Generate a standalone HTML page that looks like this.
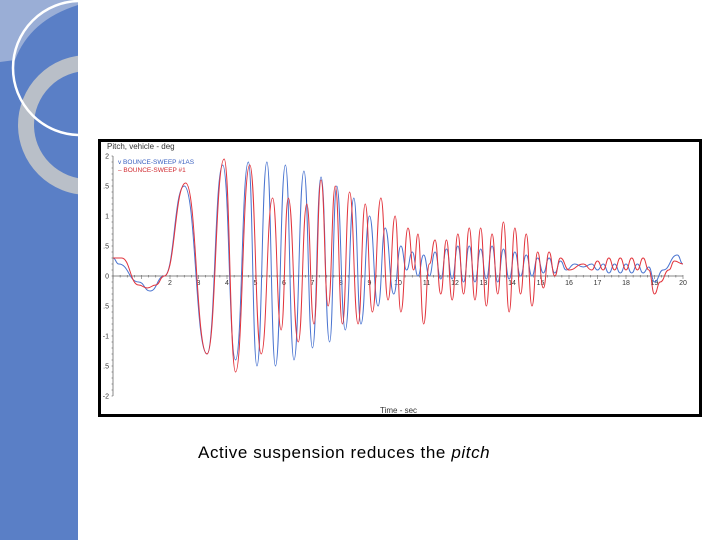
<!DOCTYPE html>
<html><head><meta charset="utf-8"><style>
body{margin:0;width:720px;height:540px;background:#fff;position:relative;overflow:hidden;font-family:"Liberation Sans",sans-serif}
#side{position:absolute;left:0;top:0}
#chart{position:absolute;left:98px;top:139px}
#cap{position:absolute;left:198px;top:443px;font-size:17px;letter-spacing:0.6px;color:#000;white-space:nowrap}
</style></head><body>
<svg id="side" width="80" height="540">
<defs><clipPath id="cp"><rect x="0" y="0" width="78" height="540"/></clipPath></defs>
<rect x="0" y="0" width="78" height="540" fill="#5a7fc6"/>
<g clip-path="url(#cp)">
<path d="M0,0 H78 V5 Q30,20 15,60 L0,62 Z" fill="#9aaed6"/>
<circle cx="88" cy="125" r="62" fill="none" stroke="#b9bfc8" stroke-width="16"/>
<circle cx="80" cy="68" r="67" fill="none" stroke="#fff" stroke-width="2.5"/>
</g>
<rect x="78" y="0" width="2" height="540" fill="#fff"/>
</svg>
<svg id="chart" width="604" height="278"></svg>
<div id="cap">Active suspension reduces the <i>pitch</i></div>
<script>
const xTicks=[2,3,4,5,6,7,8,9,10,11,12,13,14,15,16,17,18,19,20];
const yTicks=[2,1.5,1,0.5,0,-0.5,-1,-1.5,-2];
const yTickLabels=["2",".5","1",".5","0",".5","-1",".5","-2"];
const blueT=[0,0.2,0.9,1.3,1.8,2.5,3.3,3.85,4.3,4.75,5.05,5.4,5.7,6.05,6.35,6.7,7.0,7.3,7.6,7.85,8.15,8.45,8.7,9.0,9.3,9.55,9.85,10.1,10.3,10.5,10.7,10.9,11.1,11.3,11.5,11.7,11.9,12.1,12.3,12.5,12.7,12.9,13.1,13.3,13.5,13.7,13.9,14.1,14.3,14.5,14.7,14.9,15.1,15.3,15.5,15.7,15.9,16.2,16.5,16.8,17.0,17.2,17.4,17.6,17.8,18.0,18.2,18.4,18.6,18.8,19.0,19.3,19.8,20];
const blueV=[0.3,0.2,-0.1,-0.25,0,1.5,-1.3,1.85,-1.4,1.9,-1.5,1.9,-1.5,1.85,-1.4,1.75,-1.2,1.65,-1.1,1.5,-0.9,1.3,-0.8,1.0,-0.5,0.8,-0.3,0.5,0.1,0.4,0.0,0.35,0.0,0.4,-0.05,0.45,-0.05,0.5,-0.1,0.5,-0.1,0.45,-0.05,0.5,-0.1,0.45,-0.05,0.4,0.0,0.35,0.0,0.3,0.05,0.3,0.05,0.25,0.1,0.2,0.15,0.2,0.1,0.2,0.05,0.2,0.05,0.2,0.05,0.2,0.05,0.15,-0.1,0.1,0.35,0.2];
const redT=[0,0.3,0.9,1.2,1.5,1.8,2.55,3.3,3.9,4.3,4.8,5.2,5.6,5.9,6.15,6.5,6.8,7.05,7.3,7.55,7.8,8.05,8.3,8.6,8.85,9.1,9.4,9.65,9.9,10.1,10.35,10.55,10.7,10.9,11.1,11.3,11.5,11.7,11.9,12.1,12.3,12.5,12.7,12.9,13.1,13.3,13.5,13.7,13.9,14.1,14.3,14.5,14.7,14.9,15.1,15.3,15.5,15.7,16.0,16.5,16.8,17.0,17.2,17.4,17.6,17.8,18.0,18.2,18.4,18.6,18.8,19.0,19.2,19.5,19.7,20];
const redV=[0.3,0.3,-0.15,-0.2,-0.15,0,1.55,-1.3,1.95,-1.6,1.85,-1.3,1.3,-0.9,1.3,-1.1,1.2,-0.8,1.6,-0.5,1.5,-0.8,1.4,-0.8,1.2,-0.6,1.3,-0.4,1.0,-0.6,0.8,0.1,0.7,-0.8,0.2,0.6,-0.3,0.6,-0.4,0.7,-0.3,0.8,-0.4,0.8,-0.5,0.7,-0.3,0.9,-0.6,0.8,-0.3,0.7,-0.5,0.4,-0.2,0.4,0.0,0.3,0.1,0.2,0.1,0.25,0.1,0.3,0.1,0.3,0.1,0.3,0.1,0.3,0.1,-0.3,-0.1,0.1,0.25,0.2];
const NS="http://www.w3.org/2000/svg";
const svg=document.getElementById('chart');
const X0=15,XS=28.5,Y0=137,YS=60;
const xs=t=>X0+t*XS, ys=v=>Y0-v*YS;
function el(tag,attrs,parent){const e=document.createElementNS(NS,tag);for(const k in attrs)e.setAttribute(k,attrs[k]);(parent||svg).appendChild(e);return e;}
const bg=el('rect',{x:1.5,y:1.5,width:601,height:275,fill:'#fff',stroke:'#000','stroke-width':3});


const ax=el('line',{x1:xs(0),y1:ys(2),x2:xs(0),y2:ys(-2),stroke:'#888','stroke-width':1});


const axx=el('line',{x1:xs(0),y1:ys(0),x2:xs(20),y2:ys(0),stroke:'#888','stroke-width':1});


for(let t=0;t<=20;t+=0.25){el('line',{x1:xs(t),x2:xs(t),y1:ys(0)-1,y2:ys(0)+(t%1===0?3:1.5),stroke:'#666','stroke-width':0.6});}
for(let v=-2;v<=2.001;v+=0.1){el('line',{x1:xs(0)-1.5,x2:xs(0),y1:ys(v),y2:ys(v),stroke:'#666','stroke-width':0.6});}
xTicks.forEach(t=>{const tx=el('text',{x:xs(t),y:ys(0)+9,'font-size':7,'text-anchor':'middle',fill:'#333'});tx.textContent=t;

});
yTicks.forEach((v,i)=>{const tx=el('text',{x:xs(0)-4,y:ys(v)+2.5,'font-size':7,'text-anchor':'end',fill:'#333'});tx.textContent=yTickLabels[i];

});
function path(T,V,color,name){let d='M'+xs(T[0])+','+ys(V[0]);
for(let i=1;i<T.length;i++){const x0=xs(T[i-1]),x1=xs(T[i]),m=(x0+x1)/2;d+=' C'+m+','+ys(V[i-1])+' '+m+','+ys(V[i])+' '+x1+','+ys(V[i]);}
const p=el('path',{d:d,fill:'none',stroke:color,'stroke-width':1});

}
path(blueT,blueV,'#4a74d0','series-bounce-sweep-1as');
path(redT,redV,'#e2343c','series-bounce-sweep-1');
const tt=el('text',{x:9,y:10,'font-size':8,fill:'#333'});tt.textContent='Pitch, vehicle - deg';


const xt=el('text',{x:282,y:274,'font-size':8,fill:'#333'});xt.textContent='Time - sec';


const l1=el('text',{x:20,y:25,'font-size':6.5,fill:'#3a60c0'});l1.textContent='v  BOUNCE-SWEEP #1AS';


const l2=el('text',{x:20,y:33,'font-size':6.5,fill:'#d02a30'});l2.textContent='\u2013 BOUNCE-SWEEP #1';


</script>
</body></html>
